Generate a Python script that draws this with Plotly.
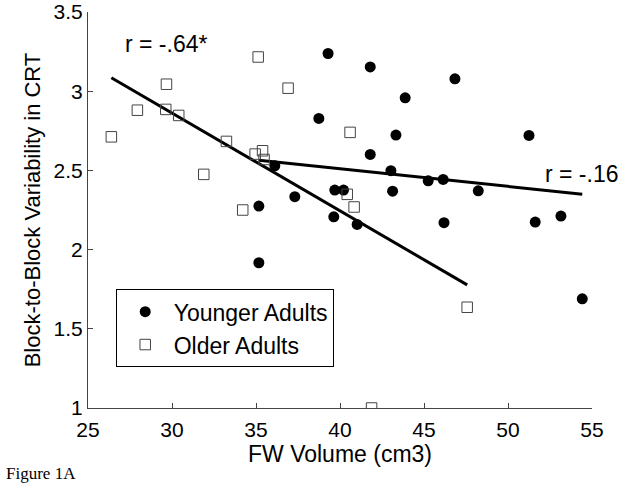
import numpy as np
import plotly.graph_objects as go

# Younger adults (filled circles)
young_x = [39.29, 38.74, 36.12, 35.17, 37.31, 39.69, 39.63, 41.80, 46.84, 43.88,
           43.33, 51.25, 41.80, 43.03, 45.25, 46.14, 48.23, 43.13, 40.21, 41.02,
           46.19, 51.62, 53.15, 35.17, 54.42]
young_y = [3.238, 2.828, 2.529, 2.275, 2.334, 2.376, 2.207, 3.153, 3.078, 2.958,
           2.723, 2.721, 2.601, 2.498, 2.434, 2.443, 2.371, 2.369, 2.376, 2.159,
           2.170, 2.174, 2.212, 1.917, 1.689]

# Older adults (open squares)
old_x = [26.39, 27.94, 29.67, 29.63, 30.40, 31.89, 33.24, 34.21, 35.13, 34.95,
         35.39, 35.48, 36.91, 40.60, 40.43, 40.84, 47.57, 41.88]
old_y = [2.712, 2.880, 3.044, 2.885, 2.847, 2.475, 2.683, 2.250, 3.216, 2.603,
         2.624, 2.569, 3.019, 2.740, 2.349, 2.269, 1.636, 1.000]

x_ticks = [25, 30, 35, 40, 45, 50, 55]
y_ticks = [1, 1.5, 2, 2.5, 3, 3.5]
y_ticklabels = ["1", "1.5", "2", "2.5", "3", "3.5"]

r_young_label = "r = -.16"
r_old_label = "r = -.64*"


def fit_line(xs, ys):
    xs = np.asarray(xs)
    ys = np.asarray(ys)
    m, b = np.polyfit(xs, ys, 1)
    lx = np.array([xs.min(), xs.max()])
    return lx, m * lx + b


oxl, oyl = fit_line(old_x, old_y)
yxl, yyl = fit_line(young_x, young_y)

FONT = "Liberation Sans, Arial, sans-serif"

fig = go.Figure()
fig.add_trace(go.Scatter(x=oxl, y=oyl, mode="lines", line=dict(color="black", width=3),
                         showlegend=False, hoverinfo="skip"))
fig.add_trace(go.Scatter(x=yxl, y=yyl, mode="lines", line=dict(color="black", width=3),
                         showlegend=False, hoverinfo="skip"))
fig.add_trace(go.Scatter(x=young_x, y=young_y, mode="markers", name="Younger Adults",
                         marker=dict(symbol="circle", size=11, color="black",
                                     line=dict(width=0))))
fig.add_trace(go.Scatter(x=old_x, y=old_y, mode="markers", name="Older Adults",
                         marker=dict(symbol="square-open", size=10.5, color="#444444",
                                     line=dict(width=1))))

fig.add_annotation(x=27.07, y=3.30, xref="x", yref="y", text=r_old_label,
                   showarrow=False, xanchor="left", yanchor="middle",
                   font=dict(family=FONT, size=23, color="black"))
fig.add_annotation(x=52.07, y=2.48, xref="x", yref="y", text=r_young_label,
                   showarrow=False, xanchor="left", yanchor="middle",
                   font=dict(family=FONT, size=23, color="black"))
fig.add_annotation(x=-0.167, y=-0.166, xref="paper", yref="paper", text="Figure 1A",
                   showarrow=False, xanchor="left", yanchor="middle",
                   font=dict(family="Liberation Serif, Times New Roman, serif", size=17,
                             color="black"))

fig.update_layout(
    width=629, height=488,
    margin=dict(l=88, r=37, t=12, b=80, autoexpand=False),
    paper_bgcolor="white", plot_bgcolor="white",
    font=dict(family=FONT, size=21, color="black"),
    showlegend=True,
    legend=dict(x=0.055, y=0.30, xanchor="left", yanchor="top",
                bordercolor="black", borderwidth=1, bgcolor="white",
                font=dict(family=FONT, size=23, color="black"),
                itemwidth=47, tracegroupgap=0),
    xaxis=dict(range=[25, 55], tickvals=x_ticks, ticks="inside", ticklen=5,
               tickcolor="#444444", showline=True, linecolor="#444444", linewidth=1,
               showgrid=False, zeroline=False, automargin=False, ticklabelstandoff=3,
               title=dict(text="FW Volume (cm3)", standoff=0,
                          font=dict(family=FONT, size=23))),
    yaxis=dict(range=[1, 3.5], tickvals=y_ticks, ticktext=y_ticklabels,
               ticks="inside", ticklen=5, tickcolor="#444444",
               showline=True, linecolor="#444444", linewidth=1,
               showgrid=False, zeroline=False, automargin=False,
               title=dict(text="Block-to-Block Variability in CRT", standoff=6,
                          font=dict(family=FONT, size=22))),
)

fig.write_html("out.html", config={"displayModeBar": False},
               post_script="document.body.style.margin='0';document.body.style.padding='0';")
